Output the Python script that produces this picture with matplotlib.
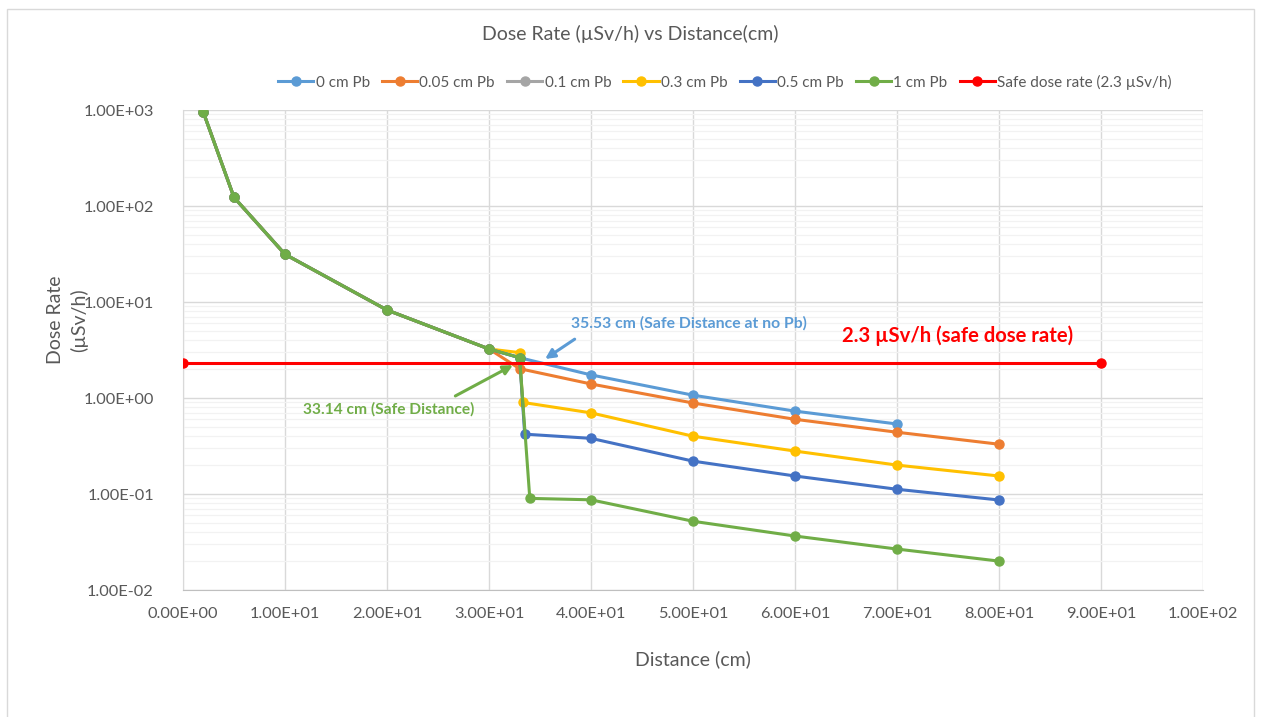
import matplotlib
matplotlib.use("Agg")
import matplotlib.pyplot as plt
from matplotlib.ticker import FixedLocator, LogLocator, NullFormatter, FuncFormatter
from matplotlib.patches import Rectangle

plt.rcParams['font.family'] = ['Lato', 'DejaVu Sans']

# ---- data ----
shared_x = [2, 5, 10, 20, 30]
shared_y = [944, 123, 31.4, 8.25, 3.24]

x_0cm = shared_x + [33, 40, 50, 60, 70]
y_0cm = shared_y + [2.63, 1.74, 1.07, 0.73, 0.536]

x_005cm = shared_x + [33, 40, 50, 60, 70, 80]
y_005cm = shared_y + [2.02, 1.40, 0.887, 0.60, 0.44, 0.33]

x_01cm = shared_x
y_01cm = shared_y

x_03cm = shared_x + [33, 33.3, 40, 50, 60, 70, 80]
y_03cm = shared_y + [2.97, 0.90, 0.70, 0.40, 0.28, 0.20, 0.154]

x_05cm = shared_x + [33, 33.5, 40, 50, 60, 70, 80]
y_05cm = shared_y + [2.63, 0.42, 0.38, 0.22, 0.154, 0.112, 0.0866]

x_1cm = shared_x + [33, 34, 40, 50, 60, 70, 80]
y_1cm = shared_y + [2.63, 0.090, 0.087, 0.052, 0.0365, 0.0267, 0.020]

x_safe = [0, 90]
y_safe = [2.3, 2.3]

series = [
    ("0 cm Pb", x_0cm, y_0cm, "#5B9BD5"),
    ("0.05 cm Pb", x_005cm, y_005cm, "#ED7D31"),
    ("0.1 cm Pb", x_01cm, y_01cm, "#A5A5A5"),
    ("0.3 cm Pb", x_03cm, y_03cm, "#FFC000"),
    ("0.5 cm Pb", x_05cm, y_05cm, "#4472C4"),
    ("1 cm Pb", x_1cm, y_1cm, "#70AD47"),
    ("Safe dose rate (2.3 \u00b5Sv/h)", x_safe, y_safe, "#FF0000"),
]

x_ticks = [0, 10, 20, 30, 40, 50, 60, 70, 80, 90, 100]
y_ticks = [1e-2, 1e-1, 1e0, 1e1, 1e2, 1e3]

W, H = 1261, 717
fig = plt.figure(figsize=(W / 100, H / 100), dpi=100)
fig.patches.append(Rectangle((7 / W, -0.01), (1254 - 7) / W, 1 - 9 / H + 0.01,
                             transform=fig.transFigure, fill=False,
                             edgecolor="#D9D9D9", linewidth=1.0))

ax = fig.add_axes([183 / W, 1 - 590 / H, (1203 - 183) / W, (590 - 110) / H])
ax.set_yscale('log')
ax.set_xlim(0, 100)
ax.set_ylim(1e-2, 1e3)

ax.xaxis.set_major_locator(FixedLocator(x_ticks))
ax.yaxis.set_major_locator(FixedLocator(y_ticks))
ax.yaxis.set_minor_locator(LogLocator(base=10, subs=range(2, 10)))
ax.yaxis.set_minor_formatter(NullFormatter())
fmt = FuncFormatter(lambda v, p: ("%.2E" % v))
ax.xaxis.set_major_formatter(fmt)
ax.yaxis.set_major_formatter(fmt)

ax.grid(True, which='major', color="#D9D9D9", linewidth=1.0)
ax.grid(True, which='minor', axis='y', color="#F2F2F2", linewidth=0.9)
ax.set_axisbelow(True)
for s in ['top', 'right']:
    ax.spines[s].set_visible(False)
ax.spines['left'].set_color("#D9D9D9")
ax.spines['bottom'].set_color("#BFBFBF")
ax.tick_params(axis='both', which='both', length=0, labelsize=11.8, colors="#595959")
ax.tick_params(axis='y', pad=21)
ax.tick_params(axis='x', pad=12)

for label, xs, ys, c in series:
    ax.plot(xs, ys, color=c, linewidth=2.2, marker='o', markersize=6.5, label=label, zorder=3)

ax.set_xlabel("Distance (cm)", fontsize=14, color="#595959", labelpad=21)
ax.set_ylabel("Dose Rate\n(\u00b5Sv/h)", fontsize=14, color="#595959", linespacing=1.4)
ax.yaxis.set_label_coords(-0.093, 0.5625)

fig.text(0.5, 1 - 34 / H, "Dose Rate (\u00b5Sv/h) vs Distance(cm)", ha='center', va='center',
         fontsize=14, color="#595959")

leg = ax.legend(loc='center', bbox_to_anchor=((725 - 183) / (1203 - 183), (110 - 82) / 480 + 1.0),
                ncol=7, frameon=False, fontsize=11, handlelength=2.3, handletextpad=0.15,
                columnspacing=0.8, labelcolor="#595959")

# annotations
ax.text(38.0, 6.0, "35.53 cm (Safe Distance at no Pb)", color="#5B9BD5", fontsize=11.3,
        fontweight='bold', ha='left', va='center')
ax.annotate("", xy=(35.5, 2.55), xytext=(38.4, 4.1),
            arrowprops=dict(arrowstyle='-|>', color="#5B9BD5", lw=2.2, mutation_scale=14,
                            shrinkA=0, shrinkB=0))
ax.text(11.8, 0.77, "33.14 cm (Safe Distance)", color="#70AD47", fontsize=11.2,
        fontweight='bold', ha='left', va='center')
ax.annotate("", xy=(32.35, 2.2), xytext=(26.7, 1.05),
            arrowprops=dict(arrowstyle='-|>', color="#70AD47", lw=2.2, mutation_scale=14,
                            shrinkA=0, shrinkB=0))
ax.text(64.6, 4.42, "2.3 \u00b5Sv/h (safe dose rate)", color="#FF0000", fontsize=14.6,
        fontweight='bold', ha='left', va='center')

fig.savefig("out.png", dpi=100)
